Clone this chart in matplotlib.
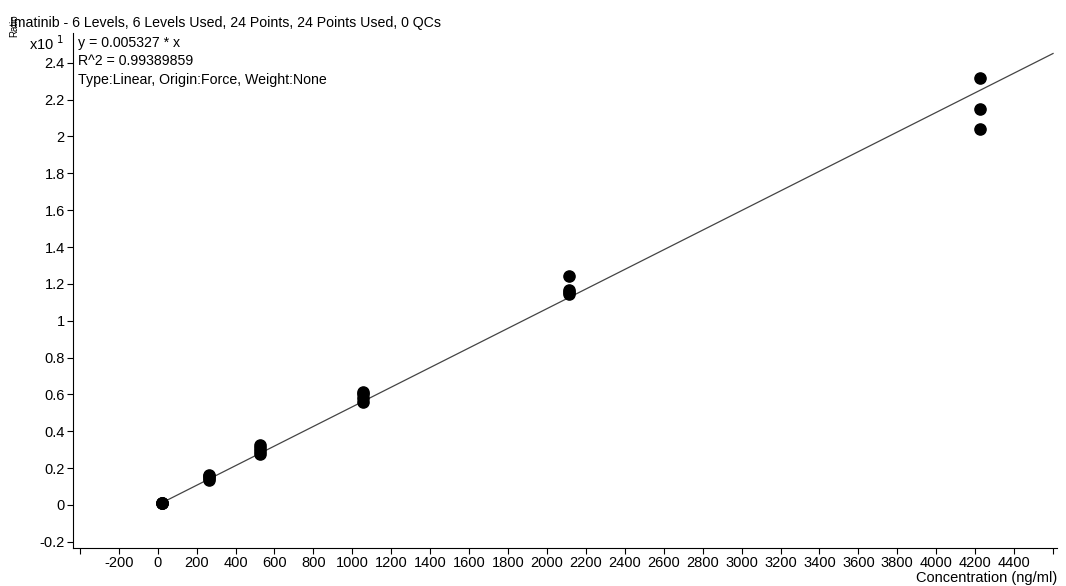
import matplotlib.pyplot as plt
import numpy as np

plt.rcParams['font.family'] = ['Liberation Sans', 'DejaVu Sans']

# concentration levels (ng/ml) and ratio (x10^1) for each replicate
conc = [22, 22, 22, 22,
        264, 264, 264, 264,
        528, 528, 528, 528,
        1056, 1056, 1056, 1056,
        2112, 2112, 2112, 2112,
        4224, 4224, 4224]
ratio = [0.010, 0.012, 0.011, 0.013,
         0.135, 0.145, 0.155, 0.160,
         0.275, 0.290, 0.310, 0.325,
         0.560, 0.580, 0.600, 0.612,
         1.145, 1.155, 1.165, 1.240,
         2.040, 2.150, 2.320]

slope = 0.005327  # y = slope * x, ratio shown in units of x10^1
x_ticks = list(range(-400, 4601, 200))
y_ticks = [-0.2, 0, 0.2, 0.4, 0.6, 0.8, 1, 1.2, 1.4, 1.6, 1.8, 2, 2.2, 2.4]

fig = plt.figure(figsize=(10.66, 5.86), dpi=100)
ax = fig.add_axes([0.0685, 0.0648, 0.923, 0.879])

xl = np.array([0, 4600])
ax.plot(xl, slope * xl / 10, color='#444444', lw=0.9, zorder=1)
ax.scatter(conc, ratio, s=65, color='black', zorder=2)

ax.set_xlim(-435, 4620)
ax.set_ylim(-0.234, 2.562)

ax.set_xticks(x_ticks)
ax.set_xticklabels(['' if t in (-400, 4600) else str(t) for t in x_ticks])
ax.set_yticks(y_ticks)
ax.set_yticklabels(['%g' % t for t in y_ticks])
ax.tick_params(labelsize=10.5, length=4, width=0.8, direction='out', pad=2)

for s in ['top', 'right']:
    ax.spines[s].set_visible(False)

fig.text(1057 / 1066, 1 - 578 / 586, 'Concentration (ng/ml)',
         ha='right', va='center', fontsize=10.5)

fig.text(78 / 1066, 1 - 36 / 586,
         'y = 0.005327 * x\nR^2 = 0.99389859\nType:Linear, Origin:Force, Weight:None',
         ha='left', va='top', fontsize=10.2, linespacing=1.4)

fig.text(0.009, 1 - 23 / 586, 'Imatinib - 6 Levels, 6 Levels Used, 24 Points, 24 Points Used, 0 QCs',
         ha='left', va='center', fontsize=10.2)
fig.text(14 / 1066, 1 - 14 / 586, 'Ratio', rotation=90, ha='center', va='top', fontsize=7)
fig.text(29 / 1066, 1 - 44 / 586, 'x10$^{\\ 1}$', ha='left', va='center', fontsize=10.5)

fig.savefig('out.png', dpi=100)
